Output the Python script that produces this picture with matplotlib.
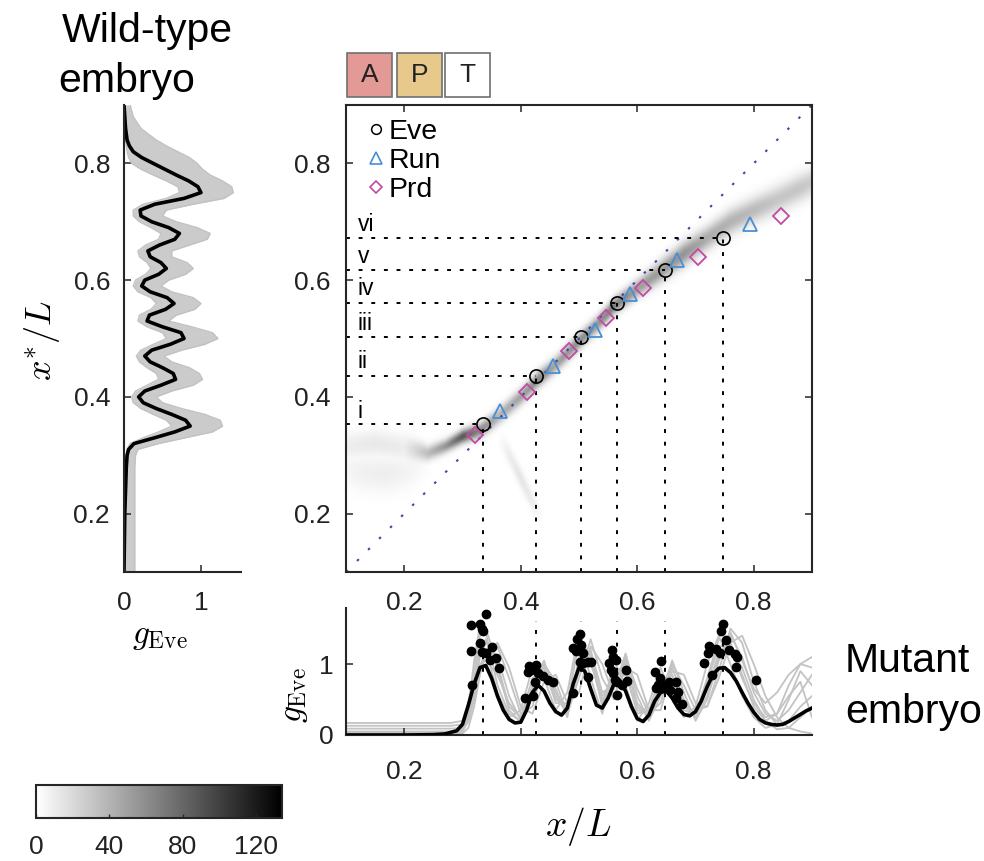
import numpy as np
import matplotlib
matplotlib.use("Agg")
import matplotlib.pyplot as plt
from matplotlib.patches import Rectangle
from matplotlib.lines import Line2D

plt.rcParams['font.family'] = ['Liberation Sans', 'DejaVu Sans']
plt.rcParams['mathtext.fontset'] = 'cm'

#  Data
# **************************
# stripe positions (Eve / Run / Prd), x = position in mutant, y = decoded x*
eve_x = [0.335, 0.427, 0.504, 0.565, 0.648, 0.748]
eve_y = [0.353, 0.436, 0.502, 0.561, 0.617, 0.673]
run_x = [0.365, 0.455, 0.527, 0.587, 0.668, 0.794]
run_y = [0.376, 0.453, 0.514, 0.577, 0.634, 0.697]
prd_x = [0.322, 0.411, 0.482, 0.546, 0.610, 0.705, 0.847]
prd_y = [0.334, 0.408, 0.479, 0.535, 0.586, 0.639, 0.710]
stripe_names = ["i", "ii", "iii", "iv", "v", "vi"]
stripe_label_y = [0.375, 0.460, 0.526, 0.585, 0.640, 0.696]

# decoding map ridge (x, centre y, level, width)
ridge_x = [0.10, 0.15, 0.20, 0.24, 0.27, 0.30, 0.33, 0.36, 0.40, 0.43, 0.46, 0.50, 0.53,
           0.56, 0.60, 0.64, 0.68, 0.72, 0.76, 0.80, 0.84, 0.88, 0.90]
ridge_y = [0.315, 0.320, 0.312, 0.303, 0.315, 0.332, 0.342, 0.365, 0.400, 0.430, 0.455, 0.495, 0.523,
           0.555, 0.585, 0.615, 0.645, 0.672, 0.700, 0.720, 0.738, 0.758, 0.768]
ridge_lev = [9, 12, 10, 35, 55, 88, 62, 40, 48, 62, 48, 60, 55,
             68, 50, 52, 56, 44, 40, 36, 30, 30, 27]
ridge_w = [0.016, 0.016, 0.016, 0.009, 0.008, 0.008, 0.009, 0.010, 0.010, 0.010, 0.010, 0.010, 0.010,
           0.010, 0.011, 0.013, 0.014, 0.014, 0.015, 0.015, 0.016, 0.016, 0.016]
# faint side branch below the diagonal
branch_x = [0.36, 0.38, 0.40, 0.42, 0.44]
branch_y = [0.330, 0.300, 0.260, 0.220, 0.190]
branch_lev = [0, 10, 14, 10, 0]
# faint blob bottom left
blob_x = [0.10, 0.13, 0.17, 0.21, 0.25]
blob_y = [0.275, 0.270, 0.268, 0.275, 0.290]
blob_lev = [5, 8, 9, 6, 0]

# wild-type Eve profile (left panel)
wt_y = [0.10, 0.20, 0.28, 0.30, 0.31, 0.32, 0.33, 0.34, 0.35, 0.36, 0.37, 0.38, 0.39, 0.40,
        0.41, 0.42, 0.43, 0.44, 0.45, 0.46, 0.47, 0.48, 0.49, 0.50, 0.51, 0.52, 0.53, 0.54,
        0.55, 0.56, 0.57, 0.58, 0.59, 0.60, 0.61, 0.62, 0.63, 0.64, 0.65, 0.66, 0.67, 0.68,
        0.69, 0.70, 0.71, 0.72, 0.73, 0.74, 0.75, 0.76, 0.77, 0.78, 0.79, 0.80, 0.81, 0.82,
        0.83, 0.84, 0.86, 0.88, 0.90]
wt_mean = [0.00, 0.01, 0.03, 0.04, 0.06, 0.13, 0.40, 0.66, 0.86, 0.80, 0.62, 0.42, 0.25, 0.19,
           0.27, 0.48, 0.67, 0.64, 0.50, 0.34, 0.27, 0.36, 0.60, 0.78, 0.74, 0.50, 0.30, 0.33,
           0.54, 0.65, 0.56, 0.34, 0.23, 0.27, 0.45, 0.55, 0.48, 0.34, 0.31, 0.46, 0.66, 0.72,
           0.58, 0.36, 0.22, 0.21, 0.40, 0.78, 1.00, 0.96, 0.84, 0.68, 0.53, 0.38, 0.23, 0.12,
           0.07, 0.04, 0.02, 0.01, 0.00]
wt_lo = [0.00, 0.02, 0.02, 0.03, 0.04, 0.08, 0.25, 0.45, 0.62, 0.55, 0.38, 0.22, 0.12, 0.10,
         0.15, 0.30, 0.45, 0.42, 0.30, 0.20, 0.16, 0.22, 0.38, 0.55, 0.50, 0.30, 0.18, 0.20,
         0.35, 0.42, 0.35, 0.18, 0.12, 0.15, 0.28, 0.35, 0.30, 0.20, 0.18, 0.28, 0.45, 0.48,
         0.35, 0.20, 0.12, 0.12, 0.25, 0.55, 0.72, 0.70, 0.55, 0.38, 0.22, 0.10, 0.06, 0.04,
         0.03, 0.02, 0.01, 0.00, 0.00]
wt_hi = [0.14, 0.14, 0.14, 0.15, 0.18, 0.45, 0.80, 1.15, 1.28, 1.25, 1.05, 0.75, 0.50, 0.42,
         0.62, 0.90, 1.02, 0.98, 0.85, 0.62, 0.52, 0.75, 1.05, 1.22, 1.15, 0.88, 0.58, 0.68,
         0.92, 1.00, 0.90, 0.62, 0.48, 0.58, 0.80, 0.90, 0.82, 0.62, 0.62, 0.85, 1.08, 1.12,
         0.95, 0.68, 0.50, 0.55, 0.90, 1.30, 1.42, 1.40, 1.28, 1.12, 1.02, 0.95, 0.85, 0.70,
         0.55, 0.42, 0.22, 0.12, 0.08]

# mutant Eve profiles (bottom panel)
mut_x = [0.10, 0.20, 0.25, 0.27, 0.29, 0.30, 0.31, 0.32, 0.33, 0.34, 0.35, 0.36, 0.37, 0.38,
         0.39, 0.40, 0.41, 0.42, 0.43, 0.44, 0.45, 0.46, 0.47, 0.48, 0.49, 0.50, 0.51, 0.52,
         0.53, 0.54, 0.55, 0.56, 0.57, 0.58, 0.59, 0.60, 0.61, 0.62, 0.63, 0.64, 0.65, 0.66,
         0.67, 0.68, 0.69, 0.70, 0.71, 0.72, 0.73, 0.74, 0.75, 0.76, 0.77, 0.78, 0.79, 0.80,
         0.81, 0.82, 0.83, 0.84, 0.85, 0.86, 0.87, 0.88, 0.89, 0.90]
mut_mean = [0.00, 0.00, 0.005, 0.015, 0.06, 0.15, 0.42, 0.72, 0.95, 0.98, 0.80, 0.55, 0.35, 0.22,
            0.17, 0.18, 0.35, 0.60, 0.70, 0.62, 0.45, 0.33, 0.28, 0.38, 0.72, 0.95, 0.90, 0.65,
            0.42, 0.38, 0.52, 0.72, 0.76, 0.62, 0.40, 0.23, 0.19, 0.28, 0.48, 0.60, 0.62, 0.52,
            0.38, 0.29, 0.27, 0.33, 0.48, 0.68, 0.85, 0.94, 0.95, 0.88, 0.76, 0.60, 0.45, 0.32,
            0.22, 0.17, 0.15, 0.14, 0.15, 0.19, 0.24, 0.29, 0.34, 0.38]
tr_x = [0.10, 0.28, 0.30, 0.31, 0.32, 0.33, 0.34, 0.36, 0.38, 0.40, 0.42, 0.44, 0.46, 0.48,
        0.50, 0.52, 0.54, 0.56, 0.58, 0.60, 0.62, 0.64, 0.66, 0.68, 0.70, 0.72, 0.74, 0.76,
        0.78, 0.80, 0.82, 0.84, 0.86, 0.88, 0.90]
traces = [
    [0.17, 0.17, 0.20, 0.45, 0.95, 1.40, 1.50, 1.00, 0.40, 0.25, 0.80, 0.95, 0.45, 0.45, 1.30, 1.05, 0.45, 0.95,
     0.90, 0.30, 0.35, 0.85, 0.70, 0.35, 0.30, 0.80, 1.35, 1.30, 0.85, 0.40, 0.20, 0.30, 0.70, 1.00, 1.10],
    [0.13, 0.13, 0.15, 0.30, 0.70, 1.10, 1.30, 1.10, 0.55, 0.20, 0.55, 0.90, 0.60, 0.35, 1.00, 1.20, 0.60, 0.70,
     1.05, 0.45, 0.25, 0.60, 0.95, 0.50, 0.25, 0.55, 1.10, 1.40, 1.10, 0.60, 0.30, 0.20, 0.35, 0.60, 0.85],
    [0.09, 0.09, 0.10, 0.18, 0.50, 0.95, 1.20, 1.25, 0.80, 0.30, 0.40, 1.00, 0.75, 0.30, 0.80, 1.35, 0.80, 0.50,
     1.10, 0.65, 0.30, 0.45, 1.00, 0.70, 0.35, 0.40, 0.90, 1.50, 1.30, 0.75, 0.35, 0.15, 0.20, 0.40, 0.55],
    [0.05, 0.05, 0.08, 0.25, 0.80, 1.30, 1.20, 0.60, 0.25, 0.35, 0.95, 0.80, 0.35, 0.60, 1.45, 0.80, 0.30, 1.05,
     0.70, 0.20, 0.45, 0.95, 0.55, 0.25, 0.40, 1.00, 1.40, 1.00, 0.55, 0.25, 0.10, 0.15, 0.50, 0.90, 0.70],
    [0.02, 0.02, 0.05, 0.20, 0.60, 1.00, 1.05, 0.85, 0.45, 0.25, 0.60, 0.85, 0.55, 0.30, 0.90, 1.00, 0.55, 0.75,
     0.85, 0.35, 0.30, 0.70, 0.80, 0.40, 0.30, 0.65, 1.15, 1.20, 0.95, 0.50, 0.20, 0.08, 0.10, 0.25, 0.40],
    [0.00, 0.00, 0.03, 0.35, 1.05, 1.55, 1.45, 0.70, 0.30, 0.20, 0.70, 1.05, 0.50, 0.40, 1.40, 1.10, 0.40, 0.85,
     1.00, 0.40, 0.25, 0.75, 0.85, 0.45, 0.30, 0.75, 1.25, 1.25, 0.80, 0.45, 0.25, 0.30, 0.55, 0.75, 0.25],
    [0.00, 0.01, 0.02, 0.10, 0.40, 0.85, 1.15, 1.30, 0.95, 0.40, 0.30, 0.75, 0.85, 0.45, 0.60, 1.25, 1.00, 0.55,
     0.95, 0.85, 0.35, 0.35, 0.90, 0.85, 0.45, 0.40, 0.80, 1.30, 1.40, 1.00, 0.55, 0.25, 0.10, 0.05, 0.02],
    [0.03, 0.03, 0.06, 0.28, 0.75, 1.20, 1.35, 0.95, 0.35, 0.18, 0.65, 1.00, 0.65, 0.25, 1.10, 1.15, 0.50, 0.65,
     1.15, 0.55, 0.20, 0.55, 1.05, 0.60, 0.20, 0.50, 1.05, 1.45, 1.05, 0.65, 0.45, 0.60, 0.85, 1.00, 0.95],
]
# peak values of single embryos (black dots)
dot_x = [0.315, 0.330, 0.341, 0.333, 0.335, 0.330, 0.315, 0.333, 0.341, 0.350, 0.347, 0.358, 0.363, 0.317,
         0.407, 0.421, 0.413, 0.418, 0.427, 0.430, 0.415, 0.438, 0.447, 0.455, 0.424,
         0.501, 0.496, 0.504, 0.490, 0.494, 0.507, 0.501, 0.507, 0.515, 0.521, 0.515, 0.490,
         0.557, 0.558, 0.552, 0.563, 0.555, 0.559, 0.561, 0.565, 0.573, 0.581, 0.583, 0.565,
         0.640, 0.630, 0.639, 0.635, 0.632, 0.641, 0.647, 0.654, 0.656, 0.667, 0.670, 0.667, 0.677,
         0.747, 0.744, 0.752, 0.724, 0.721, 0.735, 0.742, 0.757, 0.767, 0.772, 0.715, 0.770, 0.804, 0.728]
dot_g = [1.55, 1.56, 1.71, 1.50, 1.46, 1.29, 1.18, 1.17, 1.15, 1.24, 1.06, 1.08, 0.95, 0.70,
         0.52, 0.55, 0.89, 0.92, 0.99, 0.87, 0.97, 0.83, 0.77, 0.75, 0.75,
         1.43, 1.36, 1.27, 1.22, 1.18, 1.16, 1.03, 1.02, 1.03, 1.03, 0.82, 0.59,
         1.20, 1.10, 1.01, 1.06, 0.92, 0.88, 0.78, 0.75, 0.70, 0.92, 0.76, 0.56,
         1.04, 0.89, 0.81, 0.71, 0.66, 0.71, 0.66, 0.74, 0.63, 0.75, 0.61, 0.52, 0.44,
         1.56, 1.46, 1.34, 1.25, 1.15, 1.21, 1.16, 1.20, 1.14, 1.10, 1.02, 0.96, 0.78, 0.85]

cbar_ticks = [0, 40, 80, 120]
cbar_max = 134


#  Figure layout (pixel boxes of the 984x861 picture)
# **************************************************
W, H = 984, 861
def box(x0, y0, x1, y1):
    return [x0 / W, 1 - y1 / H, (x1 - x0) / W, (y1 - y0) / H]

fig = plt.figure(figsize=(9.84, 8.61), dpi=100)
ax_mut = fig.add_axes(box(346, 608, 812, 735))
ax = fig.add_axes(box(346, 105, 812, 572))
ax_wt = fig.add_axes(box(124, 105, 241, 572))
cax = fig.add_axes(box(36, 785, 282, 818))
ax_mut.patch.set_alpha(0)

spine_col = "#262626"
tick_fs = 19
dot_style = dict(color="k", lw=1.4, dashes=(2, 4.5))

#  Decoding map
# *************
gx = np.linspace(0.1, 0.9, 400)
gy = np.linspace(0.1, 0.9, 400)
img = np.zeros((len(gy), len(gx)))
for px, py, pl, pw in [(ridge_x, ridge_y, ridge_lev, ridge_w),
                       (branch_x, branch_y, branch_lev, [0.012] * len(branch_x)),
                       (blob_x, blob_y, blob_lev, [0.022] * len(blob_x))]:
    inside = (gx >= px[0]) & (gx <= px[-1])
    cy = np.interp(gx, px, py)
    cl = np.interp(gx, px, pl) * inside
    cw = np.interp(gx, px, pw)
    img = np.maximum(img, cl[None, :] * np.exp(-0.5 * ((gy[:, None] - cy[None, :]) / cw[None, :]) ** 2))
im = ax.imshow(img, origin="lower", extent=[0.1, 0.9, 0.1, 0.9], cmap="gray_r",
               vmin=0, vmax=cbar_max, aspect="auto", interpolation="bilinear", zorder=0)

ax.plot([0.1, 0.9], [0.1, 0.9], color="#3448b0", lw=1.5, dashes=(1.2, 6.3), zorder=1)
for xv, yv in zip(eve_x, eve_y):
    ax.plot([0.1, xv], [yv, yv], zorder=2, **dot_style)
    ax.plot([xv, xv], [0.1, yv], zorder=2, **dot_style)
for name, ly in zip(stripe_names, stripe_label_y):
    ax.text(0.12, ly, name, fontsize=16.5, va="center", ha="left")

ax.plot(eve_x, eve_y, "o", ms=9.5, mfc="none", mec="k", mew=1.2, zorder=3)
ax.plot(run_x, run_y, "^", ms=10.5, mfc="none", mec="#4a8ed2", mew=1.3, zorder=3)
ax.plot(prd_x, prd_y, "D", ms=8, mfc="none", mec="#c14aa2", mew=1.3, zorder=3)

handles = [Line2D([], [], ls="none", marker="o", ms=7, mfc="none", mec="k", mew=1.1),
           Line2D([], [], ls="none", marker="^", ms=8, mfc="none", mec="#4a8ed2", mew=1.2),
           Line2D([], [], ls="none", marker="D", ms=6.5, mfc="none", mec="#c14aa2", mew=1.2)]
ax.legend(handles, ["Eve", "Run", "Prd"], loc="upper left", bbox_to_anchor=(0.012, 1.0),
          frameon=False, fontsize=20.5, handlelength=0.7, handletextpad=0.1, labelspacing=0.1,
          borderaxespad=0.2, borderpad=0.3)

ax.set_xlim(0.1, 0.9)
ax.set_ylim(0.1, 0.9)
ax.set_xticks([0.2, 0.4, 0.6, 0.8])
ax.set_yticks([0.2, 0.4, 0.6, 0.8])
ax.tick_params(direction="in", length=5, width=1.1, color=spine_col, top=True, right=True,
               labelsize=tick_fs, colors="#222222")
ax.tick_params(axis="x", pad=14)
ax.tick_params(axis="y", pad=11)
for s in ax.spines.values():
    s.set_linewidth(1.5)
    s.set_color(spine_col)

#  Wild-type panel
# ****************
ax_wt.fill_betweenx(wt_y, wt_lo, wt_hi, color="#cbcbcb", lw=0)
ax_wt.plot(wt_hi, wt_y, color="#c2c2c2", lw=1)
ax_wt.plot(wt_lo, wt_y, color="#c2c2c2", lw=1)
ax_wt.plot(wt_mean, wt_y, color="k", lw=2.6)
ax_wt.set_xlim(0, 1.52)
ax_wt.set_ylim(0.1, 0.9)
ax_wt.set_xticks([0, 1])
ax_wt.set_yticks([0.2, 0.4, 0.6, 0.8])
ax_wt.spines["top"].set_visible(False)
ax_wt.spines["right"].set_visible(False)
for s in ["left", "bottom"]:
    ax_wt.spines[s].set_linewidth(1.5)
    ax_wt.spines[s].set_color(spine_col)
ax_wt.tick_params(direction="in", length=5, width=1.1, color=spine_col, labelsize=tick_fs, colors="#222222")
ax_wt.tick_params(axis="x", pad=14)
ax_wt.tick_params(axis="y", pad=10)

#  Mutant panel
# *************
for tr in traces:
    ax_mut.plot(tr_x, tr, color="#c3c3c3", lw=1.3, zorder=1)
for xv in eve_x:
    ax_mut.plot([xv, xv], [0, 1.6], zorder=2, **dot_style)
ax_mut.plot(mut_x, mut_mean, color="k", lw=2.6, zorder=3)
ax_mut.plot(dot_x, dot_g, "o", color="k", ms=6, zorder=4)
ax_mut.set_xlim(0.1, 0.9)
ax_mut.set_ylim(0, 1.79)
ax_mut.set_xticks([0.2, 0.4, 0.6, 0.8])
ax_mut.set_yticks([0, 1])
ax_mut.spines["top"].set_visible(False)
ax_mut.spines["right"].set_visible(False)
for s in ["left", "bottom"]:
    ax_mut.spines[s].set_linewidth(1.5)
    ax_mut.spines[s].set_color(spine_col)
ax_mut.tick_params(direction="in", length=5, width=1.1, color=spine_col, labelsize=tick_fs, colors="#222222")
ax_mut.tick_params(axis="x", pad=18)
ax_mut.tick_params(axis="y", pad=9)

#  Colorbar
# *********
cb = fig.colorbar(im, cax=cax, orientation="horizontal", ticks=cbar_ticks)
cb.outline.set_linewidth(1.5)
cb.outline.set_edgecolor(spine_col)
cax.tick_params(direction="in", length=3, width=1, color=spine_col, labelsize=tick_fs, pad=12, colors="#222222")

#  A / P / T boxes
# ****************
for x0, lab, fc in [(347, "A", "#e39a97"), (397, "P", "#e7c98b"), (445, "T", "white")]:
    b = box(x0, 53, x0 + 45, 97)
    fig.patches.append(Rectangle((b[0], b[1]), b[2], b[3], transform=fig.transFigure,
                                 facecolor=fc, edgecolor="#707070", lw=1.2))
    fig.text(b[0] + b[2] / 2, b[1] + b[3] / 2, lab, fontsize=19, ha="center", va="center", color="#222222")

#  Texts
# ******
def ftext(px, py, s, **kw):
    fig.text(px / W, 1 - py / H, s, **kw)

ftext(62, 42, "Wild-type", fontsize=29.5, va="baseline", ha="left")
ftext(58, 92, "embryo", fontsize=29.5, va="baseline", ha="left")
ftext(845, 672, "Mutant", fontsize=29.5, va="baseline", ha="left")
ftext(845, 723, "embryo", fontsize=29.5, va="baseline", ha="left")
ftext(42, 340, r"$x^{*}/L$", fontsize=26, ha="center", va="center", rotation=90)
ftext(160, 636, r"$g_{\mathrm{Eve}}$", fontsize=24, ha="center", va="center")
ftext(295, 695, r"$g_{\mathrm{Eve}}$", fontsize=24, ha="center", va="center", rotation=90)
ftext(578, 826, r"$x/L$", fontsize=27, ha="center", va="center")

plt.savefig("out.png", dpi=100)
